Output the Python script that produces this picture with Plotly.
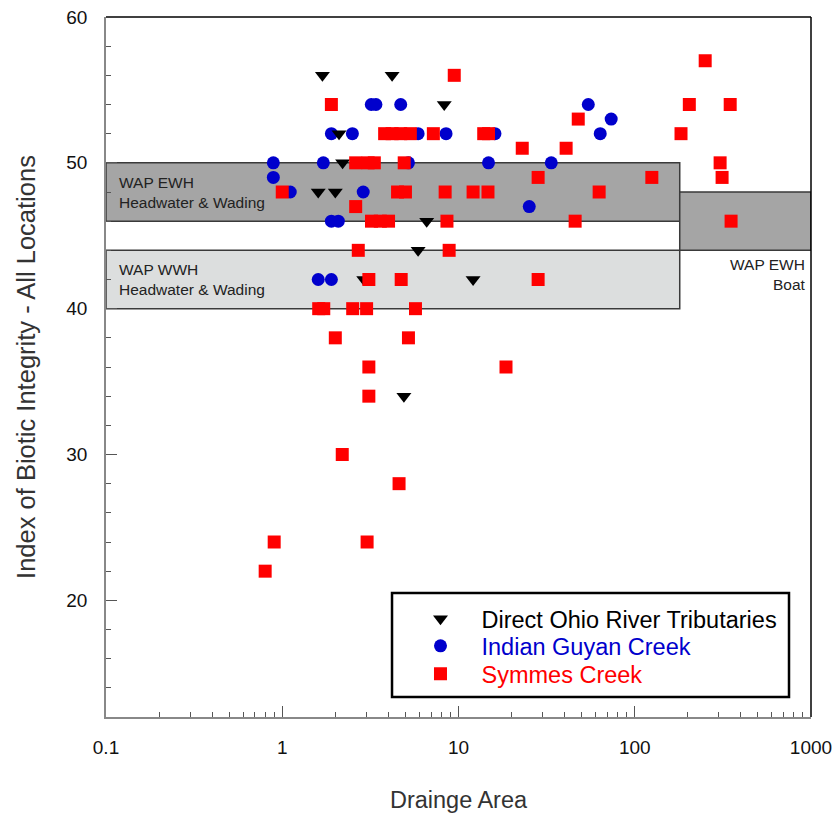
import plotly.graph_objects as go
import numpy as np

# ---------------- data ----------------
ohio_area = [1.69, 4.2, 8.3, 2.1, 2.2, 1.6, 2.0, 6.6, 5.9, 2.9, 12.1, 4.9]
ohio_ibi  = [56, 56, 54, 52, 50, 48, 48, 46, 44, 42, 42, 34]

guyan_area = [0.89, 0.89, 1.11, 1.71, 1.9, 2.5, 3.2, 3.4, 4.7, 5.9, 5.2, 2.88,
              1.9, 2.08, 1.6, 1.9, 8.5, 16.1, 54.5, 73.5, 63.7, 14.8, 33.6, 25.2]
guyan_ibi  = [50, 49, 48, 50, 52, 52, 54, 54, 54, 52, 50, 48,
              46, 46, 42, 42, 52, 52, 54, 53, 52, 50, 50, 47]

symmes_area = [0.8, 0.9, 3.03, 2.19, 4.6, 3.1, 3.1, 2.0, 5.2, 1.61, 1.72, 2.51,
               3.01, 5.7, 3.1, 4.73, 28.3, 2.7, 8.85, 3.21, 3.6, 4.01, 8.6, 45.9,
               352, 2.61, 1.0, 4.51, 5.0, 8.4, 12.1, 14.7, 62.8, 28.3, 125, 313,
               2.61, 3.07, 3.33, 4.92, 305, 23.0, 40.8, 3.81, 4.2, 4.7, 5.33, 7.2,
               13.9, 14.8, 183, 47.8, 1.9, 204, 348, 9.46, 251, 18.6]
symmes_ibi  = [22, 24, 24, 30, 28, 34, 36, 38, 38, 40, 40, 40,
               40, 40, 42, 42, 42, 44, 44, 46, 46, 46, 46, 46,
               46, 47, 48, 48, 48, 48, 48, 48, 48, 49, 49, 49,
               50, 50, 50, 50, 50, 51, 51, 52, 52, 52, 52, 52,
               52, 52, 52, 53, 54, 54, 54, 56, 57, 36]

# criteria bands
band_labels = ["WAP EWH<br>Headwater & Wading", "WAP WWH<br>Headwater & Wading", "WAP EWH<br>Boat"]
band_x0 = [0.1, 0.1, 180]
band_x1 = [180, 180, 1000]
band_y0 = [46, 40, 44]
band_y1 = [50, 44, 48]
band_fill = ["#a5a5a5", "#dcdede", "#a5a5a5"]

x_ticks = [0.1, 1, 10, 100, 1000]
x_ticktext = ["0.1", "1", "10", "100", "1000"]
y_ticks = [20, 30, 40, 50, 60]
y_ticktext = ["20", "30", "40", "50", "60"]

FONT = "Liberation Sans, Arial, sans-serif"

fig = go.Figure()

for x0, x1, y0, y1, fc in zip(band_x0, band_x1, band_y0, band_y1, band_fill):
    fig.add_shape(type="rect", xref="x", yref="y", x0=x0, x1=x1, y0=y0, y1=y1,
                  fillcolor=fc, line=dict(color="#3a3a3a", width=1.5), layer="below")

lab_font = dict(family=FONT, size=15.5, color="#222")
fig.add_annotation(x=np.log10(band_x0[0]), y=(band_y0[0] + band_y1[0]) / 2, xref="x", yref="y",
                   text=band_labels[0], showarrow=False, xanchor="left", yanchor="middle",
                   xshift=11, align="left", font=lab_font)
fig.add_annotation(x=np.log10(band_x0[1]), y=(band_y0[1] + band_y1[1]) / 2, xref="x", yref="y",
                   text=band_labels[1], showarrow=False, xanchor="left", yanchor="middle",
                   xshift=11, align="left", font=lab_font)
fig.add_annotation(x=np.log10(band_x1[2]), y=band_y0[2], xref="x", yref="y",
                   text=band_labels[2], showarrow=False, xanchor="right", yanchor="top",
                   xshift=-3, yshift=-4, align="right", font=lab_font)

# draw order: blue, black, red (red on top)
fig.add_trace(go.Scatter(x=guyan_area, y=guyan_ibi, mode="markers", name="Indian Guyan Creek",
                         legend="legend2",
                         marker=dict(symbol="circle", size=13, color="#0000cc", line=dict(width=0))))
fig.add_trace(go.Scatter(x=ohio_area, y=ohio_ibi, mode="markers", name="Direct Ohio River Tributaries",
                         legend="legend",
                         marker=dict(symbol="triangle-down", size=13, color="#000000", line=dict(width=0))))
fig.add_trace(go.Scatter(x=symmes_area, y=symmes_ibi, mode="markers", name="Symmes Creek",
                         legend="legend3",
                         marker=dict(symbol="square", size=13, color="#ff0000", line=dict(width=0))))

# legend box border
fig.add_shape(type="rect", xref="paper", yref="paper", x0=0.4057, x1=0.9688, y0=0.0286, y1=0.1771,
              line=dict(color="black", width=2.5), fillcolor="white", layer="below")

# top and right frame lines
fig.add_shape(type="line", xref="paper", yref="paper", x0=0, x1=1, y0=1, y1=1,
              line=dict(color="black", width=1.5))
fig.add_shape(type="line", xref="paper", yref="paper", x0=1, x1=1, y0=0, y1=1,
              line=dict(color="black", width=1.5))

minor_x = [m * 10.0 ** e for e in range(-1, 3) for m in range(2, 10)]

fig.update_xaxes(type="log", range=[-1, 3], tickmode="array", tickvals=x_ticks, ticktext=x_ticktext,
                 ticks="inside", ticklen=11, tickwidth=1, tickcolor="#555", automargin=False,
                 showline=True, linecolor="#888", linewidth=1.5, showgrid=False, zeroline=False,
                 tickfont=dict(family=FONT, size=19, color="#111"), ticklabelstandoff=12,
                 ticklabeloverflow="allow",
                 minor=dict(tickmode="array", tickvals=minor_x, ticks="inside", ticklen=5,
                            tickcolor="#555", showgrid=False),
                 title=dict(text="Drainge Area", font=dict(family=FONT, size=23.5, color="#333"), standoff=35))
fig.update_yaxes(range=[12, 60.0001], tickmode="array", tickvals=y_ticks, ticktext=y_ticktext,
                 ticks="inside", ticklen=11, tickwidth=1, tickcolor="#555", automargin=False,
                 showline=True, linecolor="#888", linewidth=1.5, showgrid=False, zeroline=False,
                 tickfont=dict(family=FONT, size=19, color="#111"), ticklabelstandoff=13,
                 ticklabeloverflow="allow",
                 minor=dict(dtick=2, ticks="inside", ticklen=5, tickcolor="#555", showgrid=False),
                 title=dict(text="Index of Biotic Integrity - All Locations",
                            font=dict(family=FONT, size=25.5, color="#333"), standoff=23))

leg_common = dict(xanchor="left", yanchor="middle", bgcolor="rgba(0,0,0,0)", borderwidth=0,
                  font=dict(family=FONT, size=23.5), itemwidth=72)
# the page body adds an 8px offset, so the figure is sized 8px smaller to fill the 840x814 window
fig.update_layout(
    width=832, height=806,
    margin=dict(l=98, r=29, t=9, b=97, autoexpand=False),
    paper_bgcolor="white", plot_bgcolor="white",
    showlegend=True,
    legend=dict(x=0.4163, y=0.140, **leg_common),
    legend2=dict(x=0.4163, y=0.1014, **leg_common),
    legend3=dict(x=0.4163, y=0.0614, **leg_common),
)
fig.layout.legend.font.color = "black"
fig.layout.legend2.font.color = "#0000cc"
fig.layout.legend3.font.color = "#ff0000"

fig.write_html("out.html")
